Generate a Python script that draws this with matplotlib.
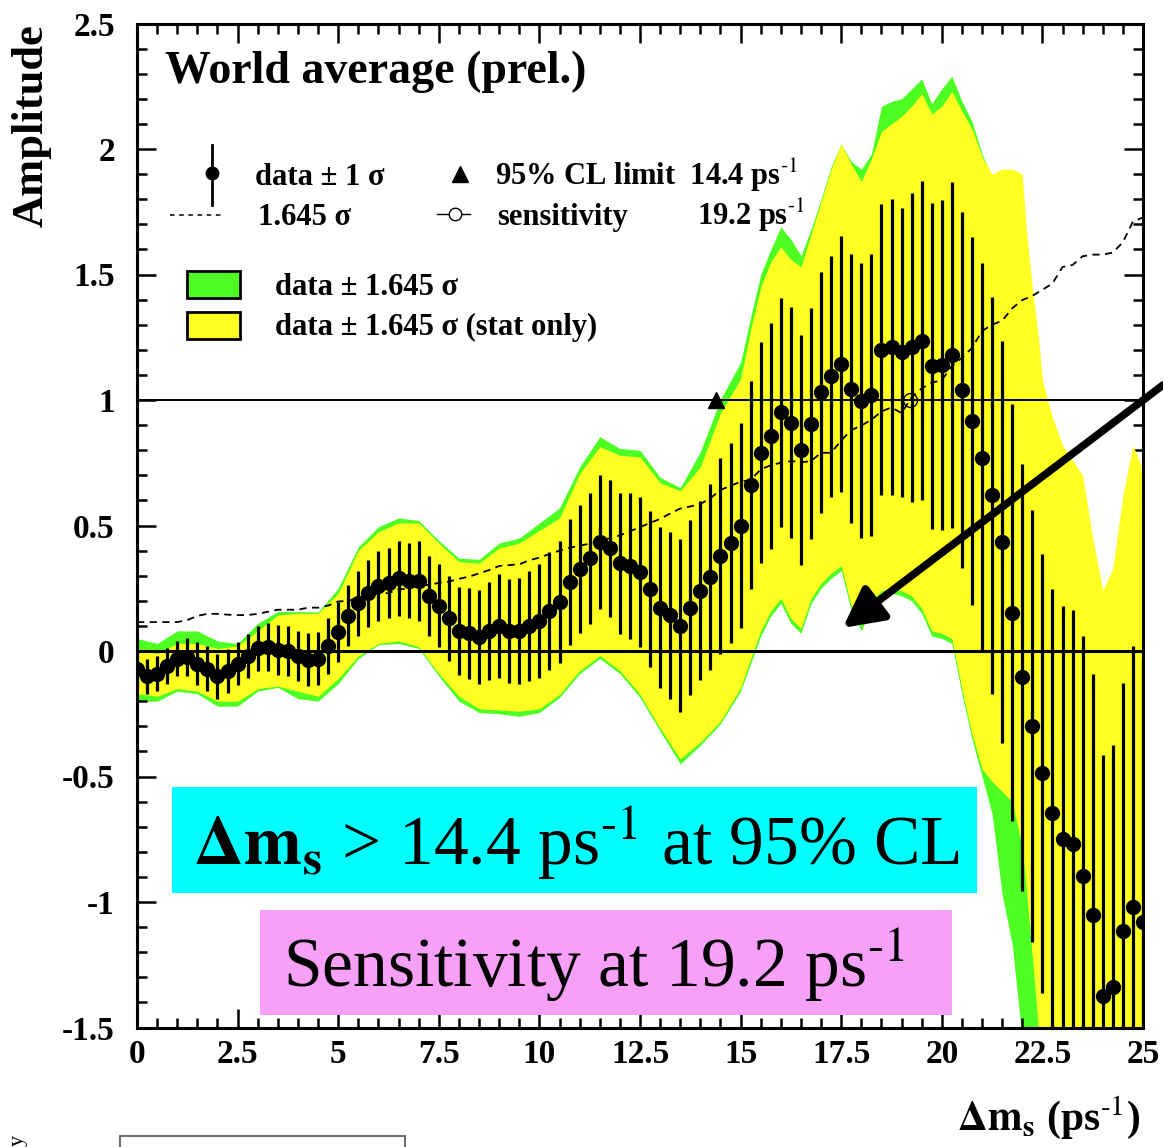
import numpy as np
import matplotlib
matplotlib.use('Agg')
import matplotlib.pyplot as plt
from matplotlib.patches import Rectangle
from matplotlib.lines import Line2D
from matplotlib.ticker import MultipleLocator, FixedLocator

plt.rcParams['font.family'] = ['Liberation Serif', 'DejaVu Serif']
plt.rcParams['mathtext.fontset'] = 'stix'
plt.rcParams['axes.unicode_minus'] = False

# ---------------- data ----------------
dms = [0.0, 0.25, 0.5, 0.75, 1.0, 1.25, 1.5, 1.75, 2.0, 2.25, 2.5, 2.75, 3.0, 3.25, 3.5, 3.75,
       4.0, 4.25, 4.5, 4.75, 5.0, 5.25, 5.5, 5.75, 6.0, 6.25, 6.5, 6.75, 7.0, 7.25, 7.5, 7.75,
       8.0, 8.25, 8.5, 8.75, 9.0, 9.25, 9.5, 9.75, 10.0, 10.25, 10.5, 10.75, 11.0, 11.25, 11.5,
       11.75, 12.0, 12.25, 12.5, 12.75, 13.0, 13.25, 13.5, 13.75, 14.0, 14.25, 14.5, 14.75, 15.0,
       15.25, 15.5, 15.75, 16.0, 16.25, 16.5, 16.75, 17.0, 17.25, 17.5, 17.75, 18.0, 18.25, 18.5,
       18.75, 19.0, 19.25, 19.5, 19.75, 20.0, 20.25, 20.5, 20.75, 21.0, 21.25, 21.5, 21.75, 22.0,
       22.25, 22.5, 22.75, 23.0, 23.25, 23.5, 23.75, 24.0, 24.25, 24.5, 24.75, 25.0]

amplitude = [-0.07, -0.10, -0.09, -0.06, -0.03, -0.025, -0.05, -0.07, -0.10, -0.08, -0.05, -0.02,
             0.01, 0.015, 0.005, 0.0, -0.02, -0.035, -0.03, 0.02, 0.077, 0.14, 0.19, 0.23, 0.26,
             0.27, 0.29, 0.28, 0.28, 0.22, 0.18, 0.13, 0.08, 0.07, 0.057, 0.08, 0.10, 0.08, 0.08,
             0.10, 0.12, 0.16, 0.197, 0.274, 0.328, 0.369, 0.434, 0.41, 0.349, 0.339, 0.315, 0.247,
             0.173, 0.143, 0.10, 0.173, 0.24, 0.295, 0.38, 0.43, 0.50, 0.66, 0.79, 0.856, 0.952,
             0.91, 0.80, 0.906, 1.03, 1.095, 1.144, 1.045, 0.998, 1.02, 1.20, 1.21, 1.19, 1.21,
             1.236, 1.136, 1.14, 1.18, 1.04, 0.917, 0.77, 0.62, 0.434, 0.153, -0.105, -0.30,
             -0.487, -0.644, -0.75, -0.77, -0.896, -1.05, -1.375, -1.34, -1.116, -1.02, -1.08]

sigma = [0.07, 0.07, 0.07, 0.07, 0.07, 0.075, 0.085, 0.09, 0.09, 0.088, 0.087, 0.087, 0.09,
         0.095, 0.1, 0.1, 0.1, 0.105, 0.105, 0.11, 0.12, 0.121, 0.13, 0.133, 0.14, 0.14, 0.15,
         0.15, 0.16, 0.16, 0.165, 0.168, 0.175, 0.18, 0.188, 0.196, 0.206, 0.208, 0.21, 0.22,
         0.226, 0.235, 0.243, 0.25, 0.255, 0.26, 0.267, 0.273, 0.28, 0.29, 0.30, 0.31, 0.32,
         0.333, 0.345, 0.35, 0.356, 0.37, 0.39, 0.40, 0.41, 0.414, 0.44, 0.45, 0.456, 0.46,
         0.457, 0.46, 0.48, 0.48, 0.51, 0.535, 0.546, 0.56, 0.58, 0.59, 0.576, 0.615, 0.636,
         0.65, 0.656, 0.69, 0.71, 0.734, 0.775, 0.79, 0.80, 0.83, 0.85, 0.86, 0.875, 0.89, 0.93,
         0.935, 0.956, 0.96, 0.96, 0.965, 0.99, 1.04, 1.05]

band_x = [0, 0.5, 1, 1.5, 2, 2.5, 3, 3.5, 4, 4.5, 5,
          5.5, 6, 6.5, 7, 7.5, 8, 8.5, 9, 9.5, 10,
          10.5, 11, 11.5, 12, 12.5, 13, 13.5, 14, 14.5, 15,
          15.25, 15.5, 15.75, 16, 16.25, 16.5, 16.75, 17, 17.25, 17.5, 17.75, 18, 18.25, 18.5,
          18.75, 19, 19.25, 19.5, 19.75, 20, 20.25, 20.5, 20.75, 21, 21.25, 21.5, 21.75, 22,
          22.1, 22.25, 22.4, 22.5, 22.75, 23, 23.25, 23.5, 23.75, 24, 24.25, 24.5, 24.75, 25]

green_hi = [0.05, 0.03, 0.08, 0.08, 0.04, 0.03, 0.11, 0.157, 0.157, 0.155, 0.25,
            0.415, 0.495, 0.53, 0.52, 0.44, 0.37, 0.365, 0.43, 0.45, 0.51,
            0.57, 0.733, 0.854, 0.807, 0.80, 0.692, 0.651, 0.794, 1.003, 1.15,
            1.33, 1.5, 1.6, 1.69, 1.64, 1.575, 1.68, 1.8, 1.93, 2.02, 1.95, 1.92, 1.98, 2.17,
            2.19, 2.2, 2.24, 2.28, 2.18, 2.24, 2.29, 2.19, 2.11, 1.98, 1.89, 1.68, 1.47, 1.28,
            1.2, 1.11, 1.03, 0.98, 0.88, 0.78, 0.68, 0.55, 0.25, -0.1, 0.25, 0.55, 0.74, 0.65]
yellow_hi = [0.01, -0.01, 0.03, 0.03, 0.01, 0.02, 0.08, 0.143, 0.15, 0.15, 0.23,
             0.40, 0.475, 0.51, 0.51, 0.43, 0.356, 0.35, 0.41, 0.43, 0.48,
             0.53, 0.706, 0.814, 0.78, 0.773, 0.67, 0.638, 0.733, 0.949, 1.084,
             1.28, 1.45, 1.55, 1.61, 1.56, 1.53, 1.66, 1.79, 1.92, 2.02, 1.94, 1.87, 1.96, 2.07,
             2.1, 2.13, 2.17, 2.22, 2.14, 2.17, 2.23, 2.15, 2.08, 1.97, 1.9, 1.92, 1.92, 1.9,
             1.68, 1.45, 1.25, 1.08, 0.93, 0.82, 0.76, 0.7, 0.45, 0.24, 0.33, 0.62, 0.82, 0.72]
yellow_lo = [-0.17, -0.18, -0.15, -0.16, -0.2, -0.2, -0.15, -0.14, -0.16, -0.18, -0.11,
             -0.02, 0.03, 0.04, 0.017, -0.09, -0.18, -0.23, -0.235, -0.24, -0.23,
             -0.173, -0.078, -0.018, -0.078, -0.173, -0.308, -0.43, -0.362, -0.28, -0.146,
             -0.03, 0.08, 0.16, 0.21, 0.13, 0.09, 0.21, 0.27, 0.31, 0.34, 0.18, 0.1, 0.2, 0.24,
             0.25, 0.24, 0.22, 0.17, 0.08, 0.07, 0.05, -0.15, -0.33, -0.47, -0.52, -0.56, -0.6,
             -0.78, -0.95, -1.22, -1.5, -1.7, -2.0, -2.0, -2.0, -2.0, -2.0, -2.0, -2.0, -2.0,
             -2.0, -2.0]
green_lo = [-0.2, -0.2, -0.16, -0.17, -0.22, -0.22, -0.16, -0.145, -0.19, -0.2, -0.13,
            -0.03, 0.025, 0.03, 0.01, -0.1, -0.2, -0.245, -0.25, -0.26, -0.245,
            -0.185, -0.09, -0.03, -0.09, -0.185, -0.32, -0.45, -0.375, -0.29, -0.16,
            -0.05, 0.06, 0.14, 0.19, 0.11, 0.07, 0.19, 0.25, 0.29, 0.32, 0.16, 0.08, 0.18, 0.22,
            0.23, 0.22, 0.2, 0.15, 0.06, 0.05, 0.03, -0.17, -0.35, -0.5, -0.65, -0.97, -1.17,
            -1.55, -1.7, -1.9, -2.0, -2.0, -2.0, -2.0, -2.0, -2.0, -2.0, -2.0, -2.0, -2.0,
            -2.0, -2.0]

limit_95 = 14.4
sensitivity = 19.2
cl_factor = 1.645

xticks = [0, 2.5, 5, 7.5, 10, 12.5, 15, 17.5, 20, 22.5, 25]
xticklabels = ['0', '2.5', '5', '7.5', '10', '12.5', '15', '17.5', '20', '22.5', '25']
yticks = [-1.5, -1, -0.5, 0, 0.5, 1, 1.5, 2, 2.5]
yticklabels = ['-1.5', '-1', '-0.5', '0', '0.5', '1', '1.5', '2', '2.5']

GREEN = '#4dff22'
YELLOW = '#ffff22'
SUP = r'$^{\text{-1}}$'

W, H = 1163, 1147
fig = plt.figure(figsize=(W / 100, H / 100), dpi=100)
ax = fig.add_axes([137 / W, 1 - 1027.5 / H, (1143 - 137) / W, (1027.5 - 23.5) / H])


def fx(px):
    return px / W


def fy(py):
    return 1 - py / H


ax.fill_between(band_x, green_lo, green_hi, color=GREEN, lw=0, zorder=1)
ax.fill_between(band_x, yellow_lo, yellow_hi, color=YELLOW, lw=0, zorder=2)
ax.axhline(0, color='k', lw=2.2, zorder=3)
ax.axhline(1, color='k', lw=1.4, zorder=3)
ax.plot(dms, cl_factor * np.array(sigma), color='k', lw=1.3, ls=(0, (4, 3)), zorder=4)
ax.errorbar(dms, amplitude, yerr=sigma, fmt='o', color='k', ms=10, elinewidth=2.3,
            capsize=0, zorder=5)
ax.plot([limit_95], [1.0], marker='^', color='k', ms=12, zorder=6)
ax.plot([sensitivity], [1.0], marker='o', mfc='none', mec='k', ms=10, mew=1.0, zorder=6)

ax.set_xlim(0, 25)
ax.set_ylim(-1.5, 2.5)
ax.xaxis.set_major_locator(FixedLocator(xticks))
ax.yaxis.set_major_locator(FixedLocator(yticks))
ax.xaxis.set_minor_locator(MultipleLocator(0.5))
ax.yaxis.set_minor_locator(MultipleLocator(0.1))
ax.set_xticklabels(xticklabels, fontsize=24, fontweight='bold')
ax.set_yticklabels(yticklabels, fontsize=24, fontweight='bold')
ax.tick_params(which='both', direction='in', top=True, right=True, width=1.8)
ax.tick_params(which='major', length=14)
ax.tick_params(which='minor', length=7)
ax.tick_params(axis='y', pad=16)
ax.tick_params(axis='x', pad=8)
for s in ax.spines.values():
    s.set_linewidth(2.2)

# boxes with statements
ax.add_patch(Rectangle((0.87, -0.964), 20.0, 0.422, fc='#00ffff', ec='none', zorder=7))
ax.add_patch(Rectangle((3.06, -1.45), 17.2, 0.42, fc='#f7a0f7', ec='none', zorder=7))
ax.text(1.39, -0.853, r'$\mathbf{\Delta m_s}$ > 14.4 ps' + SUP + ' at 95% CL', fontsize=50,
        va='baseline', ha='left', zorder=8)
ax.text(3.63, -1.339, 'Sensitivity at 19.2 ps' + SUP, fontsize=50,
        va='baseline', ha='left', zorder=8)

# arrow
ax.annotate('', xy=(17.54, 0.092), xytext=(25.5, 1.06), xycoords='data', textcoords='data',
            arrowprops=dict(arrowstyle='-|>,head_length=2.4,head_width=1.25', lw=5.5,
                            color='k', shrinkA=0, shrinkB=0, mutation_scale=10),
            annotation_clip=False, zorder=9)

# title and legend
fig.text(fx(165), fy(83), 'World average (prel.)', fontsize=33, fontweight='bold',
         va='baseline', ha='left')
fig.add_artist(Line2D([fx(212), fx(212)], [fy(145), fy(205)], color='k', lw=2))
fig.add_artist(Line2D([fx(212)], [fy(173)], marker='o', color='k', ms=9))
fig.text(fx(255), fy(185), 'data ± 1 σ', fontsize=22, fontweight='bold', va='baseline')
fig.add_artist(Line2D([fx(460)], [fy(174)], marker='^', color='k', ms=11))
fig.text(fx(495), fy(185), '95% CL limit  14.4 ps' + SUP, fontsize=22, fontweight='bold',
         va='baseline')
fig.add_artist(Line2D([fx(170), fx(222)], [fy(215), fy(215)], color='k', lw=1.1,
                      ls=(0, (3, 3))))
fig.text(fx(258), fy(225), '1.645 σ', fontsize=22, fontweight='bold', va='baseline')
fig.add_artist(Line2D([fx(437), fx(470)], [fy(214), fy(214)], color='k', lw=1.0))
fig.add_artist(Line2D([fx(455)], [fy(214)], marker='o', mfc='white', mec='k', ms=9, mew=1.0))
fig.text(fx(497), fy(225), 'sensitivity', fontsize=22, fontweight='bold', va='baseline')
fig.text(fx(697), fy(225), '19.2 ps' + SUP, fontsize=22, fontweight='bold', va='baseline')

fig.add_artist(Rectangle((fx(187), fy(298)), fx(53), 27 / H, transform=fig.transFigure,
                         fc=GREEN, ec='k', lw=2))
fig.add_artist(Rectangle((fx(187), fy(339)), fx(53), 27 / H, transform=fig.transFigure,
                         fc=YELLOW, ec='k', lw=2))
fig.text(fx(275), fy(295), 'data ± 1.645 σ', fontsize=22, fontweight='bold', va='baseline')
fig.text(fx(275), fy(335), 'data ± 1.645 σ (stat only)', fontsize=22, fontweight='bold',
         va='baseline')

# axis titles
fig.text(fx(32), fy(126), 'Amplitude', fontsize=32, fontweight='bold', rotation=90,
         ha='center', va='center')
fig.text(fx(1140), fy(1130), r'$\mathbf{\Delta m_s}$ (ps' + SUP + ')', fontsize=30,
         fontweight='bold', ha='right', va='baseline')

# slide fragments at bottom-left
fig.add_artist(Rectangle((fx(120), fy(1160)), fx(285), 24 / H, transform=fig.transFigure,
                         fc='white', ec='#707070', lw=1.5))
fig.text(fx(18), fy(1140), 'y', fontsize=16, rotation=90, ha='center', va='center')

fig.savefig('out.png', dpi=100)
